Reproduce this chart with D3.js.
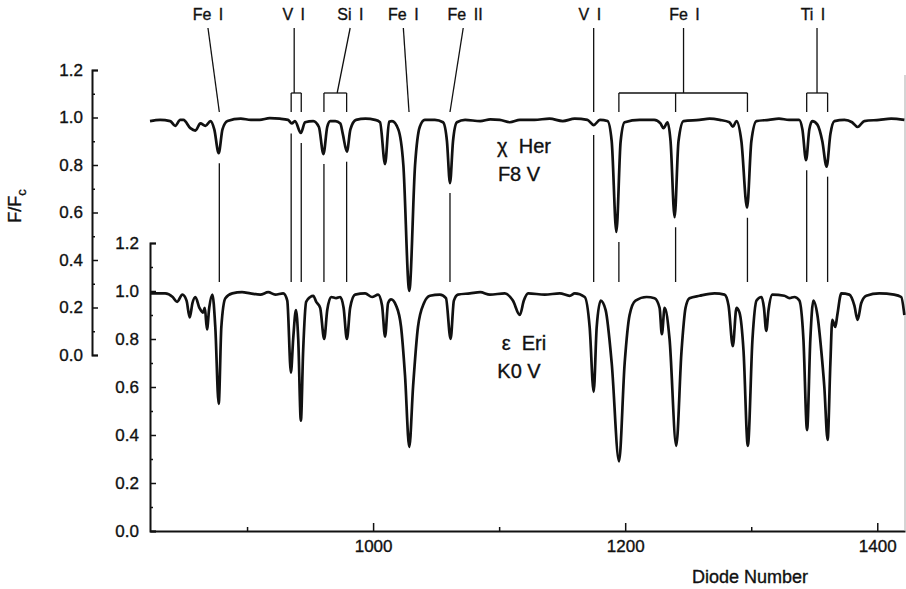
<!DOCTYPE html>
<html>
<head>
<meta charset="utf-8">
<script src="https://cdn.jsdelivr.net/npm/d3@7"></script>
<style>
  body { margin: 0; background: #fff; }
  svg text { font-family: "Liberation Sans", Arial, Helvetica, sans-serif; fill: #111; stroke: #111; stroke-width: 0.35px; }
</style>
</head>
<body>
<div id="chart"></div>
<script>
// chi Her (F8 V) - upper trace
const herDiode = [823, 831, 839, 843, 847, 849.5, 855, 859, 863, 867, 871, 874, 877.5, 880.5, 884.5, 895, 903, 910, 918, 926, 932.5, 935.5, 938, 942.7, 946, 952.5, 957, 960.6, 963.6, 966, 970, 974, 976, 979.2, 982, 986.5, 994, 1001.5, 1005.5, 1009.5, 1012.7, 1015, 1020, 1024, 1028.7, 1033.3, 1037, 1041, 1049, 1055.5, 1058.6, 1061, 1063.4, 1066.5, 1073, 1085, 1093, 1100.5, 1108.5, 1116.5, 1128, 1140, 1150.5, 1160, 1170, 1175, 1180, 1186, 1189.3, 1193, 1196.4, 1199.6, 1211.5, 1223, 1228, 1230.4, 1233.6, 1236, 1239.2, 1242.3, 1246.3, 1259, 1267, 1275, 1282.7, 1285.4, 1288.3, 1292.2, 1296.7, 1300.1, 1304.2, 1314, 1322, 1330, 1338, 1340.6, 1343.5, 1346.1, 1348.5, 1352.5, 1356.4, 1359.8, 1362.8, 1366, 1374, 1380, 1384.4, 1389.7, 1401.6, 1411, 1421.5];
const herFlux = [0.985, 0.99, 0.985, 0.965, 0.99, 0.99, 0.955, 0.945, 0.975, 0.965, 0.985, 0.95, 0.85, 0.95, 0.985, 0.995, 0.99, 0.99, 0.997, 0.995, 0.99, 0.975, 0.985, 0.935, 0.98, 0.985, 0.96, 0.846, 0.96, 0.985, 0.985, 0.975, 0.93, 0.856, 0.95, 0.99, 0.995, 0.99, 0.98, 0.804, 0.982, 0.985, 0.95, 0.8, 0.27, 0.8, 0.96, 0.99, 0.99, 0.98, 0.9, 0.724, 0.9, 0.98, 0.99, 0.985, 0.992, 0.99, 0.98, 0.99, 0.99, 0.995, 0.985, 0.995, 0.99, 0.968, 0.99, 0.985, 0.9, 0.518, 0.9, 0.98, 0.99, 0.99, 0.975, 0.955, 0.98, 0.9, 0.58, 0.9, 0.985, 0.99, 0.995, 0.99, 0.98, 0.961, 0.985, 0.9, 0.62, 0.9, 0.985, 0.99, 0.995, 0.99, 0.99, 0.95, 0.82, 0.95, 0.985, 0.97, 0.9, 0.793, 0.93, 0.985, 0.99, 0.98, 0.96, 0.985, 0.99, 0.995, 0.99];

// eps Eri (K0 V) - lower trace
const eriDiode = [823, 835, 841, 844.5, 848.7, 852, 854.5, 856.7, 859, 862.2, 865, 866.5, 868.2, 870, 872.5, 874.8, 877.5, 879.6, 882.8, 888.3, 896, 902.6, 910.5, 916.8, 922.4, 928.7, 931.9, 934.8, 936.6, 938.8, 940.6, 942.7, 944.5, 946.9, 950.1, 952.5, 954.9, 958, 961.2, 963.6, 966.7, 970.7, 973.9, 976.6, 979.2, 981.8, 985.7, 993.7, 999.2, 1004, 1007.1, 1009.5, 1011.9, 1014.3, 1018.2, 1022.2, 1025.3, 1028.7, 1031.7, 1035.6, 1040.4, 1045.1, 1053, 1057.8, 1061.5, 1064.1, 1067.3, 1076.8, 1085, 1092.7, 1104.5, 1110.9, 1116.4, 1119.6, 1123, 1136.2, 1148.1, 1156, 1160, 1167.9, 1171.8, 1175, 1177.4, 1180.6, 1184.5, 1189.3, 1195.1, 1199.6, 1203.5, 1208.2, 1217, 1223.3, 1227.3, 1229.1, 1231.3, 1235.2, 1240.5, 1244.7, 1247.9, 1251, 1259, 1270.9, 1278.8, 1282, 1285.4, 1288.3, 1290.7, 1293.9, 1297.3, 1301, 1304.2, 1308.2, 1310.1, 1311.9, 1313.7, 1316.8, 1326.3, 1330.3, 1334.2, 1338.2, 1341.4, 1344.3, 1346.9, 1349.3, 1352.5, 1355.6, 1358, 1360.6, 1362.8, 1364.3, 1366.7, 1368.3, 1371.5, 1377.8, 1381.8, 1384.4, 1387.3, 1391.3, 1401.6, 1413.4, 1419, 1421.5];
const eriFlux = [0.99, 0.99, 0.975, 0.955, 0.985, 0.96, 0.89, 0.95, 0.975, 0.93, 0.91, 0.93, 0.84, 0.93, 0.985, 0.85, 0.53, 0.85, 0.97, 0.99, 0.995, 0.99, 0.985, 0.995, 0.985, 0.99, 0.96, 0.66, 0.8, 0.92, 0.8, 0.46, 0.75, 0.955, 0.975, 0.98, 0.955, 0.93, 0.8, 0.92, 0.975, 0.97, 0.975, 0.93, 0.8, 0.93, 0.985, 0.99, 0.975, 0.985, 0.94, 0.81, 0.95, 0.965, 0.94, 0.85, 0.65, 0.35, 0.6, 0.85, 0.95, 0.98, 0.985, 0.97, 0.8, 0.96, 0.985, 0.99, 0.995, 0.985, 0.99, 0.96, 0.9, 0.96, 0.99, 0.985, 0.99, 0.98, 0.99, 0.975, 0.85, 0.58, 0.85, 0.96, 0.92, 0.7, 0.29, 0.7, 0.9, 0.96, 0.975, 0.97, 0.93, 0.82, 0.93, 0.8, 0.355, 0.75, 0.93, 0.97, 0.98, 0.99, 0.985, 0.94, 0.77, 0.93, 0.91, 0.75, 0.355, 0.8, 0.96, 0.975, 0.93, 0.834, 0.92, 0.985, 0.98, 0.97, 0.975, 0.96, 0.8, 0.42, 0.8, 0.96, 0.9, 0.75, 0.6, 0.38, 0.7, 0.88, 0.85, 0.9, 0.99, 0.985, 0.94, 0.88, 0.95, 0.98, 0.99, 0.985, 0.975, 0.9];

// line identifications
const idNames = ["Fe I", "V I", "Si I", "Fe I", "Fe II", "V I", "Fe I", "Ti I"];
const idLabelAt = [869, 937, 982, 1024, 1073, 1172, 1247, 1349];
const idLeaderTop = [869, 937.4, 981.8, 1024, 1071.5, 1175, 1246.3, 1352.2];
const idJoinAt = [878, 937.4, 971.5, 1028.5, 1061, 1175, 1246.3, 1352.2];
const idLines = [[878], [935, 943], [961, 979], [1028.5], [1061], [1175], [1195, 1240, 1297], [1344, 1360.6]];

const xTicks = [1000, 1200, 1400];
const xMinor = [900, 1100, 1300];
const yTicks = [0, 0.2, 0.4, 0.6, 0.8, 1.0, 1.2];
const yMinor = [0.1, 0.3, 0.5, 0.7, 0.9, 1.1];

const width = 906;
const height = 589;

const svg = d3
  .select("#chart")
  .append("svg")
  .attr("width", width)
  .attr("height", height);

const x = d3.scaleLinear().domain([823, 1422]).range([150, 905]);
const yHer = d3.scaleLinear().domain([0, 1.2]).range([355, 70]);
const yEri = d3.scaleLinear().domain([0, 1.2]).range([531, 243]);

const fmt = d3.format(".1f");

// outer (chi Her) axis
const herAxis = svg.append("g").attr("transform", "translate(92,0)");
herAxis.call(d3.axisLeft(yHer).tickValues(yTicks).tickFormat(fmt).tickSizeInner(-6).tickSizeOuter(-6).tickPadding(9));
herAxis.append("g").call(d3.axisLeft(yHer).tickValues(yMinor).tickFormat("").tickSize(-3)).select(".domain").remove();

// inner (eps Eri) axis
const eriAxis = svg.append("g").attr("transform", "translate(150,0)");
eriAxis.call(d3.axisLeft(yEri).tickValues(yTicks).tickFormat(fmt).tickSizeInner(-6).tickSizeOuter(-6).tickPadding(11));
eriAxis.append("g").call(d3.axisLeft(yEri).tickValues(yMinor).tickFormat("").tickSize(-3)).select(".domain").remove();

// x axis
const xAxis = svg.append("g").attr("transform", "translate(0,531)");
xAxis.call(d3.axisBottom(x).tickValues(xTicks).tickFormat(d3.format("d")).tickSizeInner(-8).tickSizeOuter(0).tickPadding(9));
xAxis.append("g").call(d3.axisBottom(x).tickValues(xMinor).tickFormat("").tickSize(-4)).select(".domain").remove();

svg.selectAll(".domain").attr("stroke", "#111").attr("stroke-width", 2);
svg.selectAll(".tick line").attr("stroke", "#111").attr("stroke-width", 1.5);
svg.selectAll(".tick text").attr("font-size", 17).attr("font-family", null).attr("fill", null);

// right edge of the frame
svg.append("line")
  .attr("x1", 905).attr("x2", 905)
  .attr("y1", 75).attr("y2", 531)
  .attr("stroke", "#aaa").attr("stroke-width", 1);

// axis titles
svg.append("text")
  .attr("transform", "translate(21,206) rotate(-90)")
  .attr("text-anchor", "middle")
  .attr("font-size", 18)
  .text("F/F")
  .append("tspan").attr("dy", 5).attr("font-size", 13).text("c");

svg.append("text")
  .attr("x", 750)
  .attr("y", 583)
  .attr("text-anchor", "middle")
  .attr("font-size", 18)
  .text("Diode Number");

// spectra
const spectrum = (ys) =>
  d3.line().x((d) => x(d[0])).y((d) => ys(d[1])).curve(d3.curveMonotoneX);

svg.append("path")
  .datum(d3.zip(eriDiode, eriFlux))
  .attr("d", spectrum(yEri))
  .attr("fill", "none").attr("stroke", "#111").attr("stroke-width", 2.7)
  .attr("stroke-linejoin", "round");

svg.append("path")
  .datum(d3.zip(herDiode, herFlux))
  .attr("d", spectrum(yHer))
  .attr("fill", "none").attr("stroke", "#111").attr("stroke-width", 2.7)
  .attr("stroke-linejoin", "round");

// line identification marks
const marks = svg.append("g").attr("stroke", "#111").attr("stroke-width", 1.3);
const herMin = (d) => {
  const v = herDiode.map((h, i) => (Math.abs(h - d) < 2.5 ? herFlux[i] : 2));
  return d3.min(v);
};

idNames.forEach((name, i) => {
  const members = idLines[i];
  const group = members.length > 1;
  svg.append("text")
    .attr("x", x(idLabelAt[i])).attr("y", 20)
    .attr("text-anchor", "middle")
    .attr("font-size", 16)
    .attr("word-spacing", 3)
    .text(name);
  marks.append("line")
    .attr("x1", x(idLeaderTop[i])).attr("y1", 28)
    .attr("x2", x(idJoinAt[i])).attr("y2", group ? 93 : 112);
  if (group) {
    marks.append("line")
      .attr("x1", x(d3.min(members))).attr("x2", x(d3.max(members)))
      .attr("y1", 93).attr("y2", 93);
    members.forEach((m) => {
      marks.append("line")
        .attr("x1", x(m)).attr("x2", x(m)).attr("y1", 93).attr("y2", 112);
    });
  }
  members.forEach((m) => {
    const top = yHer(herMin(m)) + 10;
    if (top < 282) {
      marks.append("line")
        .attr("x1", x(m)).attr("x2", x(m)).attr("y1", top).attr("y2", 282);
    }
  });
});

// star names
const star = (txt, cx, y) =>
  svg.append("text")
    .attr("x", cx).attr("y", y)
    .attr("text-anchor", "middle")
    .attr("font-size", 20)
    .style("white-space", "pre")
    .text(txt);
star("χ  Her", 524, 153);
star("F8 V", 519, 181);
star("ε  Eri", 524, 350);
star("K0 V", 519, 378);
</script>
</body>
</html>
